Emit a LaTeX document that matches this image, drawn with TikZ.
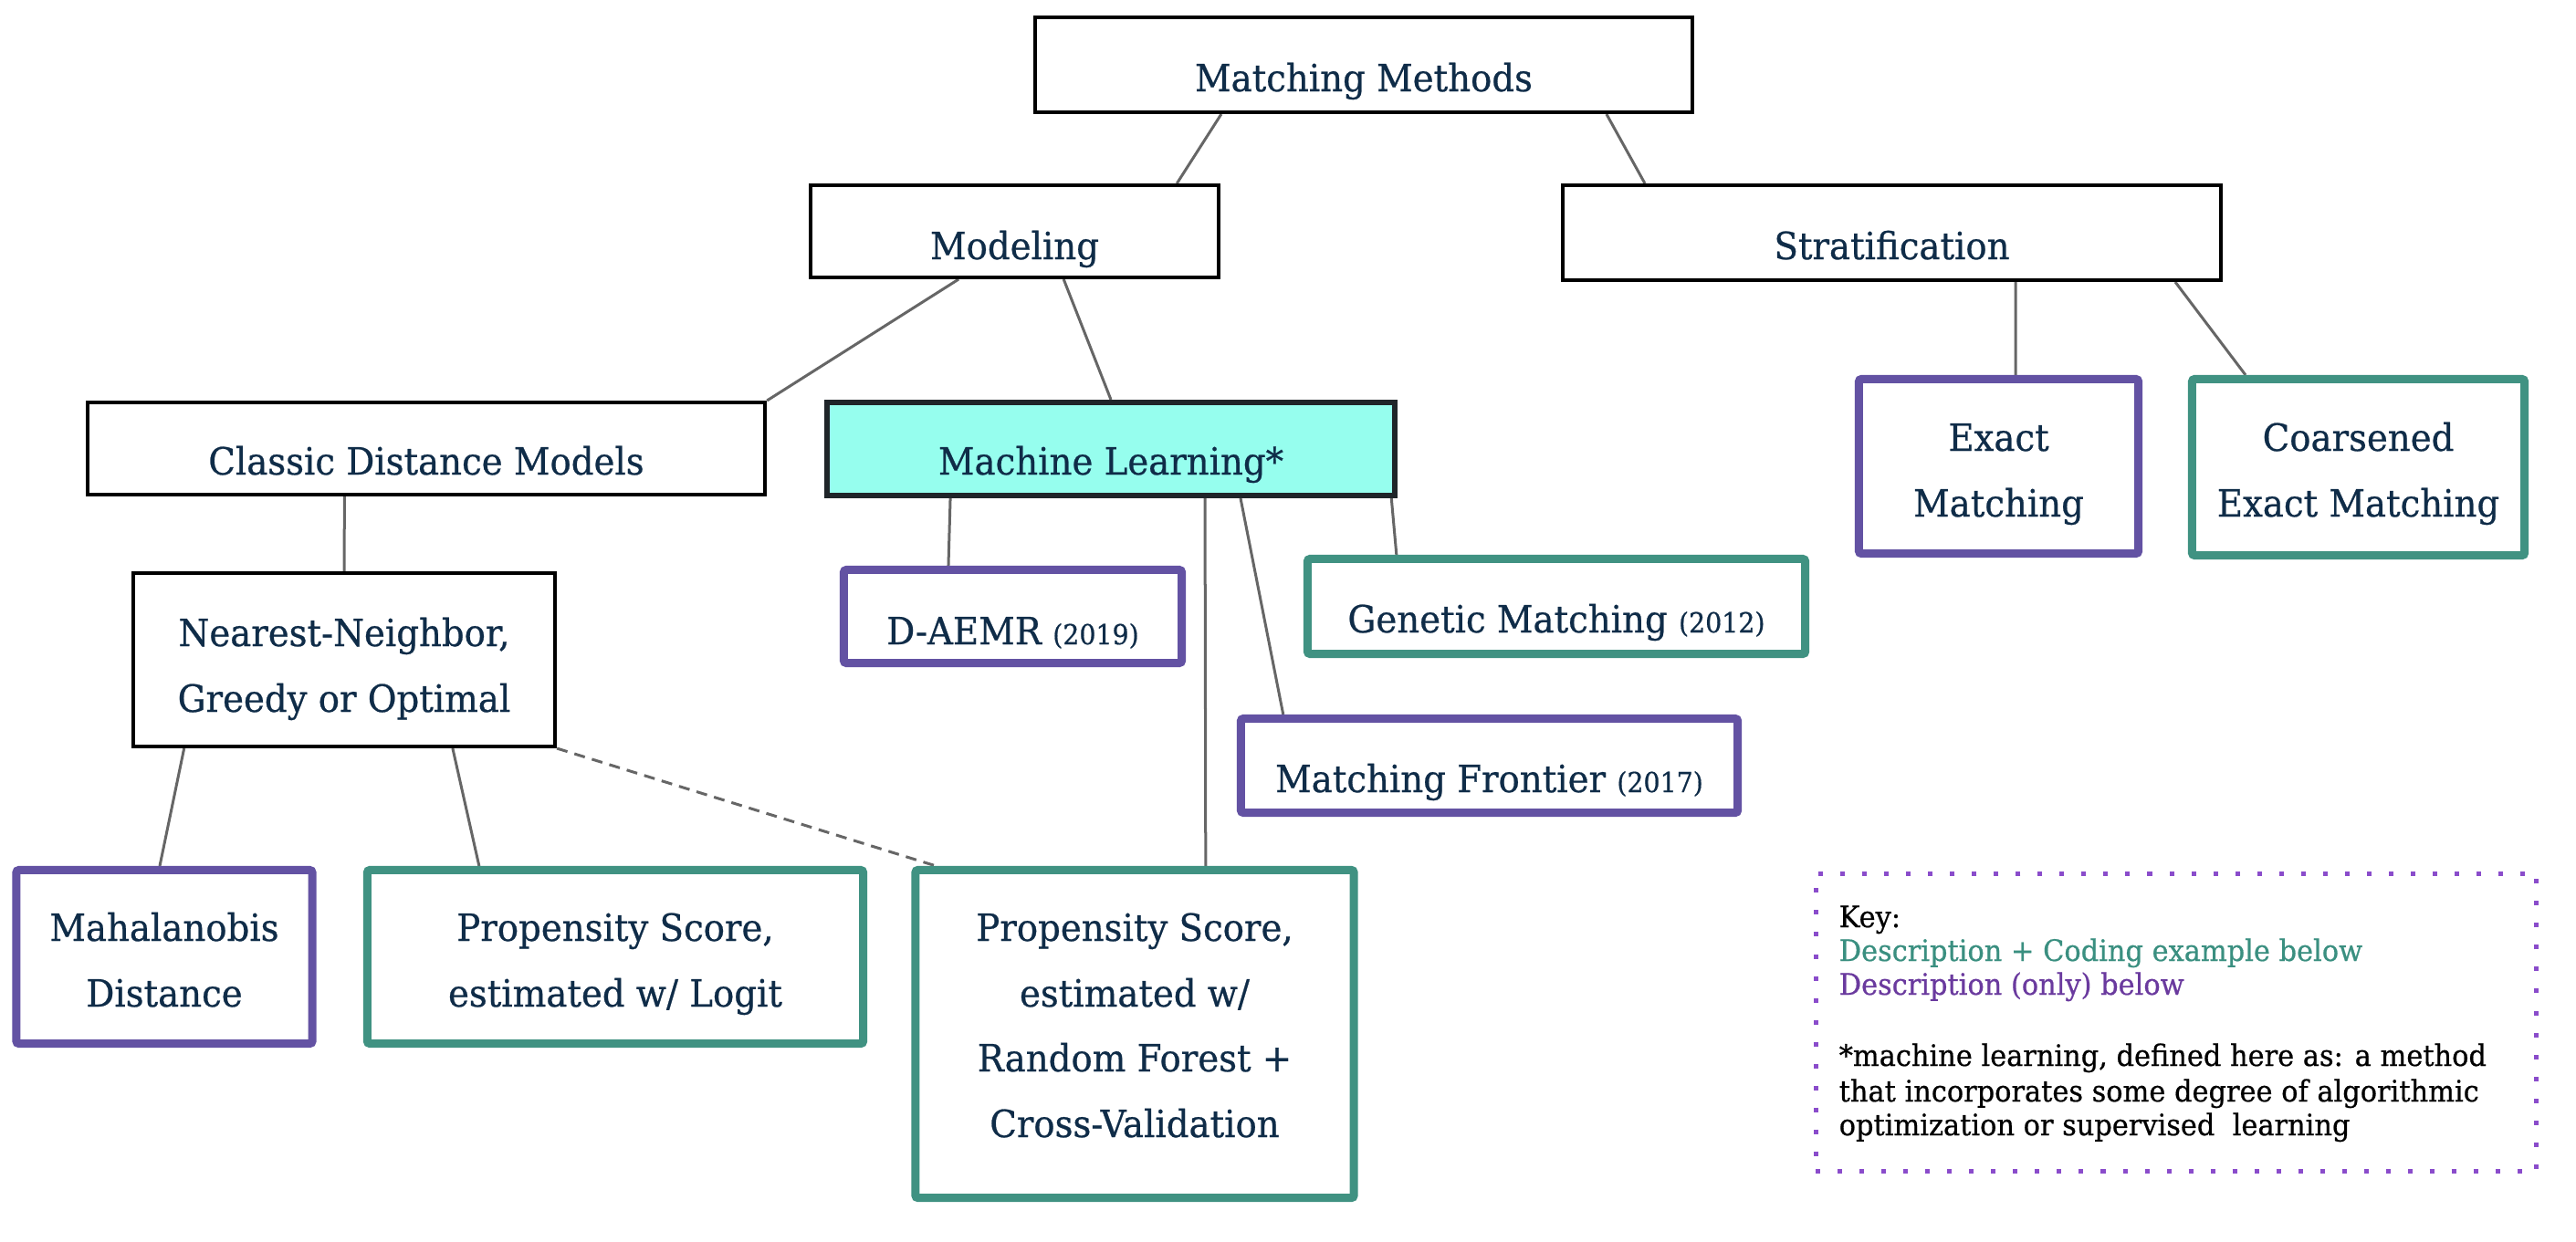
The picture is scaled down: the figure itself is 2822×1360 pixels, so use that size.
\documentclass[tikz,border=0pt]{standalone}
\usepackage{fontspec}
\setmainfont{DejaVu Serif}[FakeStretch=0.94,FakeBold=0.6]
\usetikzlibrary{calc}
\pgfdeclarelayer{bg}
\pgfsetlayers{bg,main}
\definecolor{txt}{HTML}{0F2C48}
\definecolor{conncol}{HTML}{666666}
\definecolor{purp}{HTML}{6352A3}
\definecolor{teal2}{HTML}{409282}
\definecolor{mlfill}{HTML}{96FEEE}
\definecolor{mlborder}{HTML}{1F2529}
\definecolor{keyline}{HTML}{8A4CCB}
\definecolor{keygreen}{HTML}{3A8F80}
\definecolor{keypurp}{HTML}{6A3A9E}
\newcommand\yr{\fontsize{8.6}{10}\selectfont}
\begin{document}
\begin{tikzpicture}[x=0.01cm,y=-0.01cm,
  plainbox/.style={draw=black,line width=0.04cm,fill=white,inner sep=0pt},
  mlbox/.style={draw=mlborder,line width=0.06cm,fill=mlfill,inner sep=0pt},
  purpbox/.style={draw=purp,line width=0.09cm,fill=white,inner sep=0pt,rounded corners=0.8pt},
  tealbox/.style={draw=teal2,line width=0.09cm,fill=white,inner sep=0pt,rounded corners=0.8pt},
  keybox/.style={draw=keyline,line width=0.05cm,dash pattern=on 0.05cm off 0.19cm,inner sep=0pt},
  conn/.style={draw=conncol,line width=0.03cm},
  dconn/.style={conn,dash pattern=on 0.12cm off 0.08cm},
  lbl/.style={text=txt,inner sep=0pt,anchor=base,font=\fontsize{11.7}{14}\selectfont},
  keytxt/.style={inner sep=0pt,anchor=base west,font=\fontsize{9.2}{11}\selectfont}]
\useasboundingbox (0,0) rectangle (2822,1360);
% boxes
\node[plainbox,minimum width=7.20cm,minimum height=1.04cm] (mm) at (1494,71) {};
\node[plainbox,minimum width=4.47cm,minimum height=1.01cm] (mod) at (1111.5,253.5) {};
\node[plainbox,minimum width=7.21cm,minimum height=1.04cm] (strat) at (2072.5,255) {};
\node[plainbox,minimum width=7.42cm,minimum height=1.01cm] (cdm) at (467,491.5) {};
\node[mlbox,minimum width=6.22cm,minimum height=1.02cm] (ml) at (1217,492) {};
\node[plainbox,minimum width=4.62cm,minimum height=1.90cm] (nn) at (377,723) {};
\node[purpbox,minimum width=3.70cm,minimum height=1.02cm] (daemr) at (1109.5,675.5) {};
\node[tealbox,minimum width=5.45cm,minimum height=1.04cm] (gen) at (1705,664.5) {};
\node[purpbox,minimum width=5.44cm,minimum height=1.03cm] (mf) at (1631.5,839) {};
\node[purpbox,minimum width=3.06cm,minimum height=1.91cm] (exact) at (2189.5,511) {};
\node[tealbox,minimum width=3.64cm,minimum height=1.93cm] (cem) at (2583.5,512) {};
\node[purpbox,minimum width=3.24cm,minimum height=1.90cm] (mah) at (180,1048.5) {};
\node[tealbox,minimum width=5.43cm,minimum height=1.90cm] (psl) at (674,1048.5) {};
\node[tealbox,minimum width=4.80cm,minimum height=3.59cm] (psrf) at (1243,1133) {};
\node[keybox,minimum width=7.89cm,minimum height=3.26cm] (key) at (2384,1120.5) {};
% texts
\node[lbl] (mmt) at (1494,100) {Matching Methods};
\node[lbl] (modt) at (1111.5,284) {Modeling};
\node[lbl] (stratt) at (2072.5,284) {Stratification};
\node[lbl] (cdmt) at (467,520) {Classic Distance Models};
\node[lbl] (mlt) at (1217,520) {Machine Learning*};
\node[lbl] (nnt1) at (377,708) {Nearest-Neighbor,};
\node[lbl] (nnt2) at (377,780) {Greedy or Optimal};
\node[lbl] (daemrt) at (1109.5,706) {D-AEMR {\yr (2019)}};
\node[lbl] (gent) at (1705,693) {Genetic Matching {\yr (2012)}};
\node[lbl] (mft) at (1631.5,868) {Matching Frontier {\yr (2017)}};
\node[lbl] (exactt1) at (2189.5,494) {Exact};
\node[lbl] (exactt2) at (2189.5,566) {Matching};
\node[lbl] (cemt1) at (2583.5,494) {Coarsened};
\node[lbl] (cemt2) at (2583.5,566) {Exact Matching};
\node[lbl] (maht1) at (180,1031) {Mahalanobis};
\node[lbl] (maht2) at (180,1103) {Distance};
\node[lbl] (pslt1) at (674,1031) {Propensity Score,};
\node[lbl] (pslt2) at (674,1103) {estimated w/ Logit};
\node[lbl] (psrft1) at (1243,1031) {Propensity Score,};
\node[lbl] (psrft2) at (1243,1103) {estimated w/};
\node[lbl] (psrft3) at (1243,1174) {Random Forest +};
\node[lbl] (psrft4) at (1243,1246) {Cross-Validation};
\node[keytxt,text=black] (k1) at (2014,1016) {Key:};
\node[keytxt,text=keygreen] (k2) at (2014,1053) {Description + Coding example below};
\node[keytxt,text=keypurp] (k3) at (2014,1090) {Description (only) below};
\node[keytxt,text=black] (k4) at (2014,1168) {*machine learning, defined here as: a method};
\node[keytxt,text=black] (k5) at (2014,1207) {that incorporates some degree of algorithmic};
\node[keytxt,text=black] (k6) at (2014,1244) {optimization or supervised\ \ learning};
% connectors
\begin{pgfonlayer}{bg}
\draw[conn] ($(mm.south west)!0.2845!(mm.south east)$) -- ($(mod.north west)!0.894!(mod.north east)$);
\draw[conn] ($(mm.south west)!0.867!(mm.south east)$) -- ($(strat.north west)!0.127!(strat.north east)$);
\draw[conn] ($(mod.south west)!0.364!(mod.south east)$) -- (cdm.north east);
\draw[conn] ($(mod.south west)!0.619!(mod.south east)$) -- (ml.north);
\draw[conn] ($(cdm.south west)!0.38!(cdm.south east)$) -- (nn.north);
\draw[conn] ($(ml.south west)!0.22!(ml.south east)$) -- ($(daemr.north west)!0.314!(daemr.north east)$);
\draw[conn] ($(ml.south west)!0.664!(ml.south east)$) -- ($(psrf.north west)!0.659!(psrf.north east)$);
\draw[conn] ($(ml.south west)!0.726!(ml.south east)$) -- ($(mf.north west)!0.092!(mf.north east)$);
\draw[conn] ($(ml.south west)!0.989!(ml.south east)$) -- ($(gen.north west)!0.184!(gen.north east)$);
\draw[conn] ($(strat.south west)!0.687!(strat.south east)$) -- ($(exact.north west)!0.559!(exact.north east)$);
\draw[conn] ($(strat.south west)!0.928!(strat.south east)$) -- ($(cem.north west)!0.169!(cem.north east)$);
\draw[conn] ($(nn.south west)!0.124!(nn.south east)$) -- ($(mah.north west)!0.485!(mah.north east)$);
\draw[conn] ($(nn.south west)!0.755!(nn.south east)$) -- ($(psl.north west)!0.23!(psl.north east)$);
\draw[dconn] (nn.south east) -- ($(psrf.north west)!0.055!(psrf.north east)$);
\end{pgfonlayer}
\end{tikzpicture}
\end{document}
